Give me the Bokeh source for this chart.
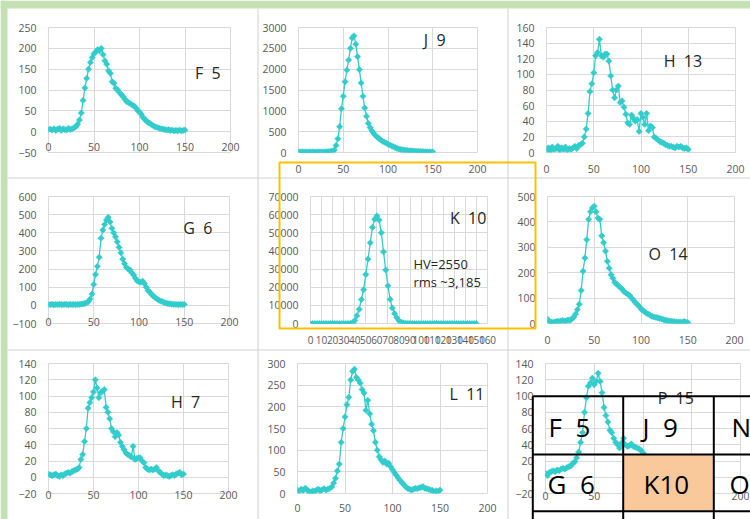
import math
from bokeh.plotting import figure
from bokeh.models import ColumnDataSource, FixedTicker, Label, Range1d
from bokeh.layouts import row, column
from bokeh.core.properties import value
from bokeh.embed import file_html
from bokeh.resources import INLINE

# ---------------- data (x = 0,2,...,150) ----------------
X = list(range(0, 151, 2))

F5 = [5, 6, 4, 7, 3, 6, 8, 3, 7, 5,
      4, 8, 5, 7, 9, 12, 18, 28, 45, 75,
      105, 128, 150, 166, 178, 187, 192, 197, 194, 200,
      185, 170, 162, 146, 140, 120, 116, 104, 100, 94,
      89, 84, 78, 72, 70, 67, 64, 62, 57, 51,
      47, 41, 34, 29, 25, 21, 19, 16, 13, 11,
      10, 8, 7, 6, 5, 4, 5, 3, 4, 2,
      3, 2, 4, 2, 3, 4]

J9 = [20, 15, 18, 12, 15, 10, 14, 12, 15, 10,
      12, 15, 10, 14, 12, 15, 18, 20, 25, 35,
      60, 170, 330, 620, 1050, 1350, 1700, 1980, 2220, 2500,
      2750, 2800, 2600, 2300, 1990, 1670, 1350, 1070, 870, 700,
      600, 520, 460, 410, 370, 335, 300, 270, 250, 228,
      200, 180, 160, 140, 120, 100, 85, 75, 65, 58,
      52, 48, 42, 40, 36, 32, 30, 28, 25, 22,
      20, 18, 15, 16, 12, 14]

H13 = [3, 6, 2, 7, 4, 5, 8, 3, 6, 4,
       7, 3, 5, 4, 6, 8, 5, 9, 10, 12,
       20, 30, 50, 78, 88, 102, 124, 128, 145, 124,
       122, 126, 126, 117, 98, 80, 70, 80, 85, 64,
       66, 58, 49, 38, 36, 48, 44, 40, 42, 27,
       50, 45, 36, 50, 28, 34, 32, 20, 18, 16,
       14, 13, 12, 10, 9, 8, 8, 7, 6, 8,
       7, 8, 6, 5, 6, 4]

G6 = [5, 4, 6, 3, 5, 4, 6, 5, 4, 6,
      5, 3, 6, 4, 5, 4, 6, 5, 7, 8,
      10, 14, 20, 35, 62, 115, 170, 215, 265, 370,
      415, 445, 470, 485, 460, 425, 400, 378, 350, 320,
      290, 255, 230, 210, 200, 196, 180, 168, 150, 135,
      130, 128, 133, 120, 100, 82, 72, 60, 51, 42,
      35, 28, 24, 20, 15, 12, 10, 8, 7, 6,
      5, 5, 4, 6, 4, 5]

K10 = [0, 0, 0, 0, 0, 0, 0, 0, 0, 0,
       0, 0, 0, 0, 0, 0, 0, 0, 50, 300,
       1600, 4300, 7800, 13200, 18600, 27000, 35500, 44500, 53000, 57500,
       59300, 57000, 50000, 39500, 29500, 20800, 13300, 8500, 5500, 3200,
       1500, 700, 300, 100, 50, 20, 10, 0, 0, 0,
       0, 0, 0, 0, 0, 0, 0, 0, 0, 0,
       0, 0, 0, 0, 0, 0, 0, 0, 0, 0,
       0, 0, 0, 0, 0, 0]

O14 = [17, 8, 5, 4, 6, 9, 7, 10, 12, 9,
       11, 14, 12, 18, 25, 37, 55, 76, 130, 206,
       258, 330, 410, 440, 455, 462, 440, 415, 410, 345,
       318, 285, 245, 218, 192, 178, 162, 155, 148, 141,
       135, 125, 120, 115, 110, 100, 92, 82, 75, 68,
       58, 52, 46, 40, 37, 32, 28, 26, 24, 22,
       20, 18, 15, 13, 11, 10, 9, 8, 7, 6,
       5, 6, 4, 8, 5, 4]

H7 = [4, 3, 2, 3, 4, 2, 1, 3, 2, 4,
      5, 6, 5, 7, 8, 9, 10, 12, 22, 28,
      44, 60, 85, 92, 98, 105, 120, 110, 98, 104,
      106, 108, 86, 80, 72, 60, 56, 50, 55, 52,
      43, 38, 34, 30, 28, 27, 25, 38, 22, 23,
      24, 24, 20, 18, 12, 10, 9, 10, 9, 10,
      12, 8, 6, 4, 2, 3, 2, 1, 2, 3,
      2, 4, 5, 6, 3, 4]

L11 = [8, 6, 10, 7, 12, 9, 4, 3, 6, 5,
       8, 10, 6, 9, 11, 8, 10, 12, 15, 24,
       35, 52, 68, 118, 150, 177, 205, 222, 262, 282,
       287, 268, 262, 255, 240, 232, 192, 215, 184, 160,
       145, 118, 100, 85, 78, 72, 75, 68, 70, 62,
       55, 48, 42, 36, 30, 25, 20, 15, 12, 10,
       8, 10, 12, 11, 13, 14, 16, 12, 11, 10,
       8, 7, 4, 6, 5, 8]

P15 = [5, 2, 6, 7, 8, 7, 9, 8, 10, 11,
       10, 12, 13, 14, 17, 19, 24, 31, 43, 55,
       80, 98, 112, 116, 122, 114, 118, 128, 118, 104,
       86, 76, 68, 58, 55, 48, 43, 40, 36, 42,
       48, 40, 38, 39, 41, 38, 37, 36, 35, 33,
       30, 27, 24, 20, 18, 15, 13, 11, 10, 9,
       8, 7, 7, 6, 5, 5, 4, 4, 3, 3,
       3, 2, 3, 2, 2, 1]

XT200 = [0, 50, 100, 150, 200]
K10_XT = [0, 10, 20, 30, 40, 50, 60, 70, 80, 90, 100, 110, 120, 130, 140, 150, 160]
F5_YT = [-50, 0, 50, 100, 150, 200, 250]
J9_YT = [0, 500, 1000, 1500, 2000, 2500, 3000]
H13_YT = [0, 20, 40, 60, 80, 100, 120, 140, 160]
G6_YT = [-100, 0, 100, 200, 300, 400, 500, 600]
K10_YT = [0, 10000, 20000, 30000, 40000, 50000, 60000, 70000]
O14_YT = [0, 100, 200, 300, 400, 500]
H7_YT = [-20, 0, 20, 40, 60, 80, 100, 120, 140]
L11_YT = [0, 50, 100, 150, 200, 250, 300]
P15_YT = [-20, 0, 20, 40, 60, 80, 100, 120, 140]

NB = "\u00a0"
PANEL_LABELS = ["F" + NB * 2 + "5", "J" + NB * 2 + "9", "H" + NB * 2 + "13",
                "G" + NB * 2 + "6", "K" + NB * 2 + "10", "O" + NB * 2 + "14",
                "H" + NB * 2 + "7", "L" + NB * 2 + "11", "P" + NB * 2 + "15"]
K10_NOTES = ["HV=2550", "rms ~3,185"]
TABLE_TEXT = ["F" + NB * 2 + "5", "J" + NB * 2 + "9", "N",
              "G" + NB * 2 + "6", "K10", "O"]

# ---------------- styling / layout (page pixels) ----------------
TEAL = "#33CCCC"
GRID = "#d9d9d9"
TICK = "#595959"
FONT = "Open Sans"
ORANGE = "#FFC000"
PEACH = "#F9C89B"
GREEN = "#C5E0B4"

TOTAL_W, TOTAL_H = 750, 519
CELL_X = [0, 258, 508, 750]
CELL_Y = [0, 182, 355, 519]

SPECS = [
    dict(col=0, row=0, L=48, R=28, T=19, B=30, xr=(0, 200), xt=XT200, yr=(-50, 250), yt=F5_YT, y=F5,
         lx=161, ly=140, stand=-10),
    dict(col=1, row=0, L=40, R=31, T=27, B=29, xr=(0, 200), xt=XT200, yr=(0, 3000), yt=J9_YT, y=J9,
         lx=140, ly=2710, stand=12),
    dict(col=2, row=0, L=38, R=15, T=12, B=29, xr=(0, 200), xt=XT200, yr=(0, 160), yt=H13_YT, y=H13,
         lx=124, ly=117, stand=12),
    dict(col=0, row=1, L=48, R=29, T=14, B=31, xr=(0, 200), xt=XT200, yr=(-100, 600), yt=G6_YT, y=G6,
         lx=149, ly=427, stand=-6),
    dict(col=1, row=1, L=52, R=21, T=6, B=29, xr=(0, 160), xt=K10_XT, yr=(0, 70000), yt=K10_YT, y=K10,
         lx=126, ly=58000, stand=12),
    dict(col=2, row=1, L=39, R=16, T=13, B=32, xr=(0, 200), xt=XT200, yr=(0, 500), yt=O14_YT, y=O14,
         lx=108, ly=274, stand=12),
    dict(col=0, row=2, L=48, R=30, T=8, B=25, xr=(0, 200), xt=XT200, yr=(-20, 140), yt=H7_YT, y=H7,
         lx=136, ly=93, stand=-3),
    dict(col=1, row=2, L=39, R=21, T=6, B=26, xr=(0, 200), xt=XT200, yr=(0, 300), yt=L11_YT, y=L11,
         lx=160, ly=229, stand=10),
    dict(col=2, row=2, L=37, R=10, T=6, B=26, xr=(0, 200), xt=XT200, yr=(-20, 140), yt=P15_YT, y=P15,
         lx=115, ly=97, stand=-2),
]

figs = {}
for s, lab in zip(SPECS, PANEL_LABELS):
    W = CELL_X[s["col"] + 1] - CELL_X[s["col"]]
    H = CELL_Y[s["row"] + 1] - CELL_Y[s["row"]]
    p = figure(width=W, height=H, x_range=Range1d(*s["xr"]), y_range=Range1d(*s["yr"]),
               output_backend="svg", toolbar_location=None, tools="",
               min_border_left=s["L"], min_border_right=s["R"],
               min_border_top=s["T"], min_border_bottom=s["B"])
    p.background_fill_color = "white"
    p.border_fill_color = "white"
    p.outline_line_color = GRID
    p.xaxis.ticker = FixedTicker(ticks=s["xt"])
    p.yaxis.ticker = FixedTicker(ticks=s["yt"])
    p.grid.grid_line_color = GRID
    p.grid.grid_line_width = 1
    for ax in (p.xaxis, p.yaxis):
        ax.axis_line_color = None
        ax.major_tick_line_color = None
        ax.minor_tick_line_color = None
        ax.major_tick_out = 0
        ax.major_tick_in = 0
        ax.major_label_text_color = TICK
        ax.major_label_text_font = FONT
        ax.major_label_text_font_size = "10.5px"
    p.xaxis.major_label_standoff = s["stand"]
    p.yaxis.major_label_standoff = 12
    if s["col"] == 1 and s["row"] == 1:
        p.xaxis.major_label_text_font_size = "10px"

    src = ColumnDataSource(dict(x=X, y=s["y"]))
    p.line("x", "y", source=src, line_color=TEAL, line_width=1.3)
    p.scatter("x", "y", source=src, marker="square", angle=math.pi / 4, size=4.4,
              fill_color=TEAL, line_color=TEAL, line_width=0.6)

    p.add_layout(Label(x=s["lx"], y=s["ly"], text=lab, text_font=FONT,
                       text_font_size="16px", text_color="#262626",
                       text_baseline="middle", text_align="left"))
    figs[(s["col"], s["row"])] = p

pk = figs[(1, 1)]
for txt, ty in zip(K10_NOTES, (33000, 22800)):
    pk.add_layout(Label(x=93, y=ty, text=txt, text_font=FONT, text_font_size="13px",
                        text_color="#262626", text_baseline="middle", text_align="left"))

rows = [row(*[figs[(c, r)] for c in range(3)], spacing=0) for r in range(3)]

# ---------------- transparent overlay (slide decorations) in page pixels ----------------
ov = figure(width=TOTAL_W, height=TOTAL_H, x_range=Range1d(0, TOTAL_W), y_range=Range1d(TOTAL_H, 0),
            output_backend="svg", toolbar_location=None, tools="",
            x_axis_location=None, y_axis_location=None,
            min_border=0, min_border_left=0, min_border_right=0, min_border_top=0, min_border_bottom=0,
            margin=(-TOTAL_H, 0, 0, 0))
ov.background_fill_color = None
ov.border_fill_color = None
ov.outline_line_color = None
ov.grid.visible = False

# slide background strips (top and left)
ov.quad(left=[0, 0], right=[TOTAL_W, 7], top=[0, 0], bottom=[8, TOTAL_H],
        fill_color=GREEN, line_color=None)

# grey borders between the pasted charts
BORDER_X = [257.5, 507.5]
BORDER_Y = [177.5, 349.5]
ov.segment(x0=BORDER_X + [7, 7], y0=[8, 8] + BORDER_Y,
           x1=BORDER_X + [TOTAL_W, TOTAL_W], y1=[TOTAL_H, TOTAL_H] + BORDER_Y,
           line_color="#d0d0d0", line_width=1)

# orange highlight frame
ov.quad(left=[279], right=[535], top=[162], bottom=[328], fill_color=None,
        line_color=ORANGE, line_width=2)

# table in the lower-right corner
TXL = [532.3, 622.7, 713.3, 804]
TYL = [395.7, 454, 510.7, 568]
ov.quad(left=[TXL[1]], right=[TXL[2]], top=[TYL[1]], bottom=[TYL[2]], fill_color=PEACH, line_color=None)
ov.segment(x0=TXL + [TXL[0]] * 4, y0=[TYL[0]] * 4 + TYL,
           x1=TXL + [TXL[-1]] * 4, y1=[TYL[-1]] * 4 + TYL,
           line_color="black", line_width=2)
TX = [548, 642, 731, 547, 643, 729]
TY = [426.7, 426.7, 426.7, 483, 483, 483]
ov.text(x=TX, y=TY, text=TABLE_TEXT, text_font=value(FONT), text_font_size=value("26px"),
        text_color="black", text_baseline="middle", text_align="left")

layout = column(*rows, ov, spacing=0)

open("out.html", "w").write(file_html(layout, INLINE))
